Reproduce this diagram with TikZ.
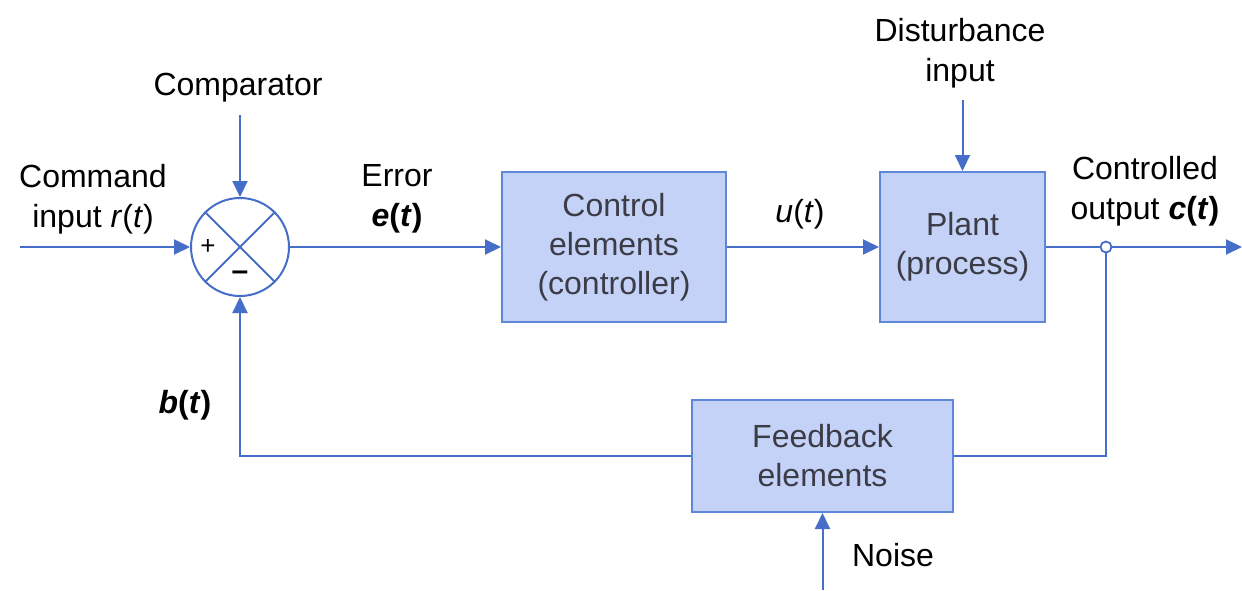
\documentclass[tikz,border=0pt]{standalone}
\usepackage{fontspec}
\setmainfont{Liberation Sans}
\usetikzlibrary{arrows.meta}
\definecolor{lineblue}{RGB}{70,110,200}
\definecolor{boxfill}{RGB}{196,210,248}
\definecolor{boxedge}{RGB}{95,135,215}
\definecolor{boxtext}{RGB}{60,60,70}
\begin{document}
\begin{tikzpicture}[x=0.5pt,y=-0.5pt,
  conn/.style={draw=lineblue,line width=1pt,-{Triangle[length=8pt,width=7.5pt]}},
  wire/.style={draw=lineblue,line width=1pt},
  blockbox/.style={draw=boxedge,fill=boxfill,line width=1pt,inner sep=0pt,
     text=boxtext,align=center,font=\fontsize{16}{19.5}\selectfont},
  lbl/.style={text=black,align=center,font=\fontsize{16}{20}\selectfont,inner sep=0pt}]
\useasboundingbox (0,0) rectangle (1242,590);
% comparator
\node[circle,draw=lineblue,line width=1pt,minimum size=49pt,inner sep=0pt,fill=white] (cmp) at (240,247) {};
\draw[wire] (cmp.north west) -- (cmp.south east);
\draw[wire] (cmp.north east) -- (cmp.south west);
\node[font=\fontsize{13}{14}\selectfont,inner sep=0pt] (plus) at (208,247) {+};
\node[font=\fontsize{15}{16}\selectfont,inner sep=0pt] (minus) at (240,276) {\textbf{--}};
% blocks
\node[blockbox,minimum width=112pt,minimum height=75pt] (ctrl) at (614,247) {Control\\elements\\(controller)};
\node[blockbox,minimum width=82.5pt,minimum height=75pt] (plant) at (962.5,247) {Plant\\(process)};
\node[blockbox,minimum width=130.5pt,minimum height=56pt] (fb) at (822.5,456) {Feedback\\elements};
% coordinates
\coordinate (in) at (20,247);
\coordinate (cmptop) at (240,115);
\coordinate (dist) at (962.5,100);
\node[circle,draw=lineblue,line width=0.9pt,fill=white,minimum size=5.5pt,inner sep=0pt] (junc) at (1106,247) {};
\coordinate (out) at (1242,247);
\coordinate (noise) at (822.5,590);
\coordinate (fbc) at (1106,456);
\coordinate (bl) at (240,456);
% labels
\node[lbl] (lcmp) at (238,88) {Comparator};
\node[lbl] (lcmd) at (93,199) {Command\\input \textit{r}(\textit{t})};
\node[lbl] (lerr) at (397,199) {Error\\\textbf{\textit{e}(\textit{t})}};
\node[lbl] (lu) at (800,214) {\textit{u}(\textit{t})};
\node[lbl] (ldist) at (960,53) {Disturbance\\input};
\node[lbl] (lout) at (1145,191) {Controlled\\output \textbf{\textit{c}(\textit{t})}};
\node[lbl] (lb) at (185,405) {\textbf{\textit{b}(\textit{t})}};
\node[lbl] (lnoise) at (893,555) {Noise};
% connectors
\draw[conn] (in) -- (cmp.west);
\draw[conn] (cmptop) -- (cmp.north);
\draw[conn] (cmp.east) -- (ctrl.west);
\draw[conn] (ctrl.east) -- (plant.west);
\draw[conn] (dist) -- (plant.north);
\draw[wire] (plant.east) -- (junc.west);
\draw[conn] (junc.east) -- (out);
\draw[wire] (junc.south) -- (fbc) -- (fb.east);
\draw[conn] (fb.west) -- (bl) -- (cmp.south);
\draw[conn] (noise) -- (fb.south);
\end{tikzpicture}
\end{document}
